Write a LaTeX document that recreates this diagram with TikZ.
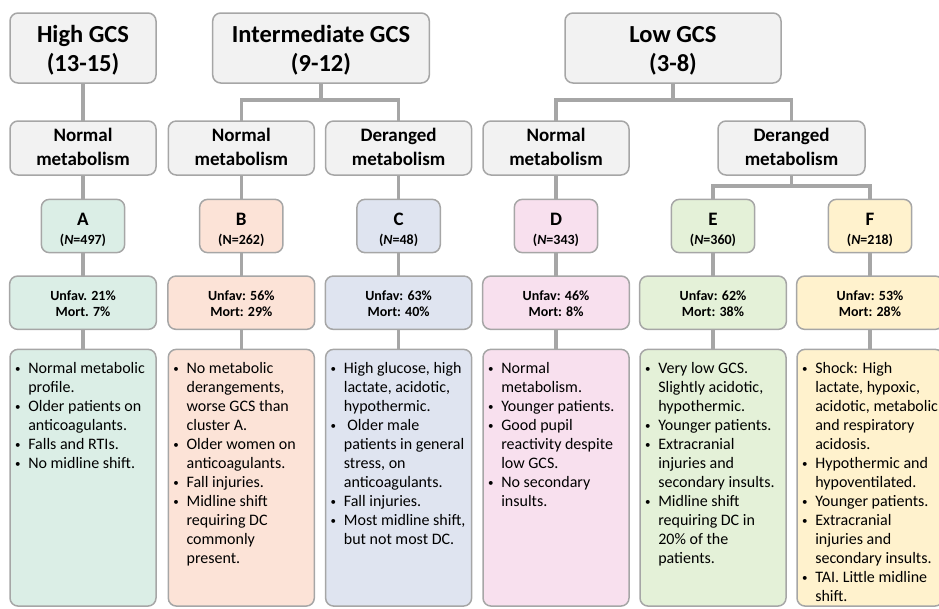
\documentclass[tikz,border=0pt]{standalone}
\usepackage{fontspec}
\setmainfont{Carlito}
\usetikzlibrary{calc}
\definecolor{gline}{HTML}{A6A6A6}
\definecolor{gfill}{HTML}{F2F2F2}
\definecolor{cA}{RGB}{219,238,230}
\definecolor{cB}{RGB}{252,227,215}
\definecolor{cC}{RGB}{223,228,240}
\definecolor{cD}{RGB}{248,224,238}
\definecolor{cE}{RGB}{228,241,216}
\definecolor{cF}{RGB}{255,242,205}
\newcommand{\bu}{\makebox[13.3pt][l]{\raisebox{1pt}{\fontsize{11}{11}\selectfont•}}}
\newcommand{\ml}[1]{\begin{tabular}[t]{@{}c@{}}#1\end{tabular}}
\newcommand{\dl}[1]{\makebox[136pt][l]{\begin{tabular}[t]{@{}l@{}l@{}}#1\end{tabular}}}
\begin{document}
\begin{tikzpicture}[x=1pt,y=-1pt,
  box/.style={draw=gline, line width=1.5pt, rounded corners=8pt, inner sep=0pt, outer sep=0pt},
  topbox/.style={box, fill=gfill, minimum height=70pt, text height=16pt, text depth=26.6pt, font=\fontsize{24.5}{29}\selectfont\bfseries},
  metbox/.style={box, fill=gfill, minimum width=146pt, minimum height=54pt, text height=14pt, text depth=26.6pt, font=\fontsize{19}{24}\selectfont\bfseries},
  clbox/.style={box, minimum width=83.3pt, minimum height=53.3pt, text height=12pt, text depth=14pt, font=\fontsize{14}{19.3}\selectfont\bfseries},
  outbox/.style={box, minimum width=146.7pt, minimum height=53.3pt, text height=10pt, text depth=15.4pt, font=\fontsize{14}{16.5}\selectfont\bfseries},
  descbox/.style={box, minimum width=146pt, minimum height=256.7pt, text height=13pt, text depth=221.8pt, font=\fontsize{16}{19}\selectfont},
  conn/.style={draw=gline, line width=3.5pt}
]
\useasboundingbox (0,0) rectangle (939,608);

% top level
\node[topbox, minimum width=146pt] (high) at (83,48) {\ml{High GCS\\(13-15)}};
\node[topbox, minimum width=216.6pt] (inter) at (321,48) {\ml{Intermediate GCS\\(9-12)}};
\node[topbox, minimum width=216pt] (low) at (673,48) {\ml{Low GCS\\(3-8)}};

% metabolism level
\node[metbox] (mA) at (83,148) {\ml{Normal\\metabolism}};
\node[metbox] (mB) at (241.3,148) {\ml{Normal\\metabolism}};
\node[metbox] (mC) at (398.6,148) {\ml{Deranged\\metabolism}};
\node[metbox] (mD) at (556,148) {\ml{Normal\\metabolism}};
\node[metbox, minimum width=147pt] (mEF) at (791.5,148) {\ml{Deranged\\metabolism}};

% cluster level
\node[clbox, fill=cA] (clA) at (83,226) {\ml{{\fontsize{19}{19.3}\selectfont A}\\(\textit{N}=497)}};
\node[clbox, fill=cB] (clB) at (241.3,226) {\ml{{\fontsize{19}{19.3}\selectfont B}\\(N=262)}};
\node[clbox, fill=cC] (clC) at (398.6,226) {\ml{{\fontsize{19}{19.3}\selectfont C}\\(\textit{N}=48)}};
\node[clbox, fill=cD] (clD) at (556,226) {\ml{{\fontsize{19}{19.3}\selectfont D}\\(\textit{N}=343)}};
\node[clbox, fill=cE] (clE) at (713,226) {\ml{{\fontsize{19}{19.3}\selectfont E}\\(\textit{N}=360)}};
\node[clbox, fill=cF] (clF) at (870,226) {\ml{{\fontsize{19}{19.3}\selectfont F}\\(\textit{N}=218)}};

% outcome level
\node[outbox, fill=cA] (oA) at (83,302.7) {\ml{Unfav. 21\%\\Mort. 7\%}};
\node[outbox, fill=cB] (oB) at (241.3,302.7) {\ml{Unfav: 56\%\\Mort: 29\%}};
\node[outbox, fill=cC] (oC) at (398.6,302.7) {\ml{Unfav: 63\%\\Mort: 40\%}};
\node[outbox, fill=cD] (oD) at (556,302.7) {\ml{Unfav: 46\%\\Mort: 8\%}};
\node[outbox, fill=cE] (oE) at (713,302.7) {\ml{Unfav: 62\%\\Mort: 38\%}};
\node[outbox, fill=cF] (oF) at (870,302.7) {\ml{Unfav: 53\%\\Mort: 28\%}};

% description level
\node[descbox, fill=cA] (dA) at (83,477.7) {\dl{\bu&Normal metabolic\\&profile.\\\bu&Older patients on\\&anticoagulants.\\\bu&Falls and RTIs.\\\bu&No midline shift.}};
\node[descbox, fill=cB] (dB) at (241.3,477.7) {\dl{\bu&No metabolic\\&derangements,\\&worse GCS than\\&cluster A.\\\bu&Older women on\\&anticoagulants.\\\bu&Fall injuries.\\\bu&Midline shift\\&requiring DC\\&commonly\\&present.}};
\node[descbox, fill=cC] (dC) at (398.6,477.7) {\dl{\bu&High glucose, high\\&lactate, acidotic,\\&hypothermic.\\\bu&\hspace{3.5pt}Older male\\&patients in general\\&stress, on\\&anticoagulants.\\\bu&Fall injuries.\\\bu&Most midline shift,\\&but not most DC.}};
\node[descbox, fill=cD] (dD) at (556,477.7) {\dl{\bu&Normal\\&metabolism.\\\bu&Younger patients.\\\bu&Good pupil\\&reactivity despite\\&low GCS.\\\bu&No secondary\\&insults.}};
\node[descbox, fill=cE] (dE) at (713,477.7) {\dl{\bu&Very low GCS.\\&Slightly acidotic,\\&hypothermic.\\\bu&Younger patients.\\\bu&Extracranial\\&injuries and\\&secondary insults.\\\bu&Midline shift\\&requiring DC in\\&20\% of the\\&patients.}};
\node[descbox, fill=cF] (dF) at (870,477.7) {\dl{\bu&Shock: High\\&lactate, hypoxic,\\&acidotic, metabolic\\&and respiratory\\&acidosis.\\\bu&Hypothermic and\\&hypoventilated.\\\bu&Younger patients.\\\bu&Extracranial\\&injuries and\\&secondary insults.\\\bu&TAI. Little midline\\&shift.}};

% connectors
\coordinate (bar1) at (0,100);
\coordinate (bar2) at (0,186);
\draw[conn] (high.south) -- (mA.north);
\draw[conn] (inter.south) -- (inter.south |- bar1) -| (mB.north);
\draw[conn] (inter.south |- bar1) -| (mC.north);
\draw[conn] (low.south) -- (low.south |- bar1) -| (mD.north);
\draw[conn] (low.south |- bar1) -| (mEF.north);
\draw[conn] (mEF.south) -- (mEF.south |- bar2) -| (clE.north);
\draw[conn] (mEF.south |- bar2) -| (clF.north);
\foreach \c in {A,B,C,D}{\draw[conn] (m\c.south) -- (cl\c.north);}
\foreach \c in {A,B,C,D,E,F}{
  \draw[conn] (cl\c.south) -- (o\c.north);
  \draw[conn] (o\c.south) -- (d\c.north);
}
\end{tikzpicture}
\end{document}
